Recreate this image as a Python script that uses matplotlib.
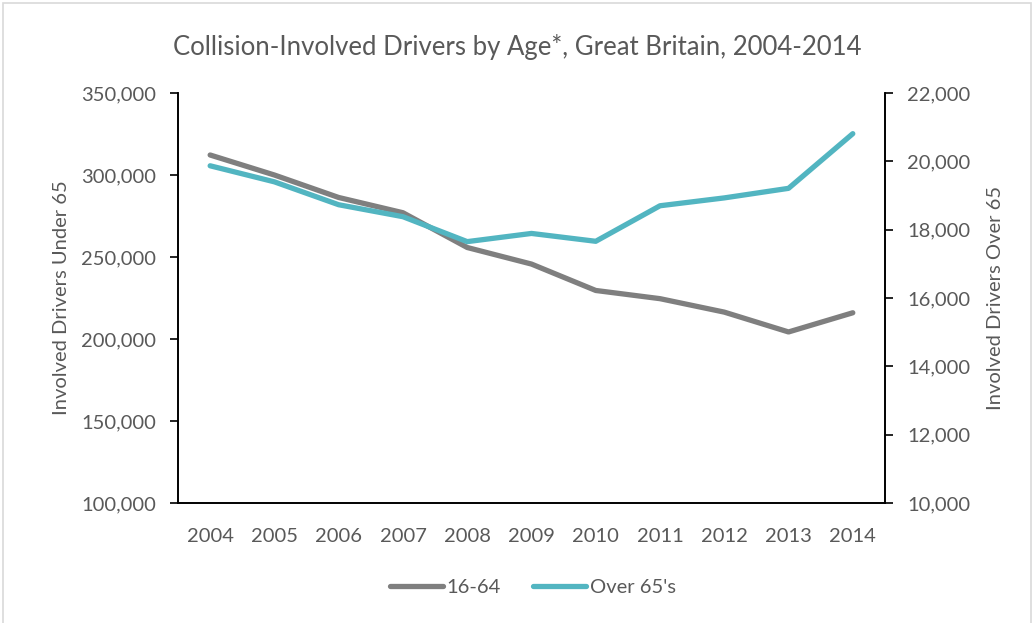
import matplotlib.pyplot as plt
from matplotlib.ticker import FuncFormatter
from matplotlib.patches import Rectangle

years = ["2004", "2005", "2006", "2007", "2008", "2009", "2010", "2011", "2012", "2013", "2014"]
under_65 = [312200, 300000, 286300, 277000, 255800, 245700, 229600, 224600, 216400, 204300, 216000]
over_65 = [19870, 19400, 18730, 18380, 17650, 17890, 17660, 18700, 18930, 19210, 20810]

grey = "#7f7f7f"
teal = "#52b5c1"
txt = "#595959"

plt.rcParams["font.family"] = ["Lato", "DejaVu Sans"]

fig = plt.figure(figsize=(10.35, 6.23), dpi=100)
ax = fig.add_axes([0.172, 0.1926, 0.683, 0.6581])
ax2 = ax.twinx()

x = range(len(years))
l1, = ax.plot(x, under_65, color=grey, lw=3.8, solid_capstyle="round", label="16-64")
l2, = ax2.plot(x, over_65, color=teal, lw=3.8, solid_capstyle="round", label="Over 65's")

ax.set_xlim(-0.5, len(years) - 0.5)
ax.set_ylim(100000, 350000)
ax2.set_ylim(10000, 22000)
ax.set_yticks(range(100000, 350001, 50000))
ax2.set_yticks(range(10000, 22001, 2000))
fmt = FuncFormatter(lambda v, p: f"{int(v):,}")
ax.yaxis.set_major_formatter(fmt)
ax2.yaxis.set_major_formatter(fmt)
ax.set_xticks(list(x))
ax.set_xticklabels(years)

for a in (ax, ax2):
    a.spines["top"].set_visible(False)
    for s in ("left", "right", "bottom"):
        a.spines[s].set_color("black")
        a.spines[s].set_linewidth(1.2)
    a.tick_params(axis="y", labelsize=14.5, labelcolor=txt, length=6, width=1.2, direction="out", pad=10)
ax.tick_params(axis="x", labelsize=14.5, labelcolor=txt, length=0, pad=18)

ax.set_ylabel("Involved Drivers Under 65", fontsize=14.5, color=txt, labelpad=8)
ax2.set_ylabel("Involved Drivers Over 65", fontsize=14.5, color=txt, labelpad=12)

fig.text(0.5, 0.925, "Collision-Involved Drivers by Age*, Great Britain, 2004-2014",
         ha="center", va="center", fontsize=18.5, color=txt)

fig.legend(handles=[l1, l2], loc="center", bbox_to_anchor=(0.515, 0.057), ncol=2,
           frameon=False, fontsize=14.5, labelcolor=txt, handlelength=2.6,
           handletextpad=0.2, columnspacing=1.6)

fig.patches.append(Rectangle((0.003, -0.01), 0.993, 1.005, transform=fig.transFigure,
                             fill=False, edgecolor="#d9d9d9", lw=1.2))

fig.savefig("out.png", dpi=100)
